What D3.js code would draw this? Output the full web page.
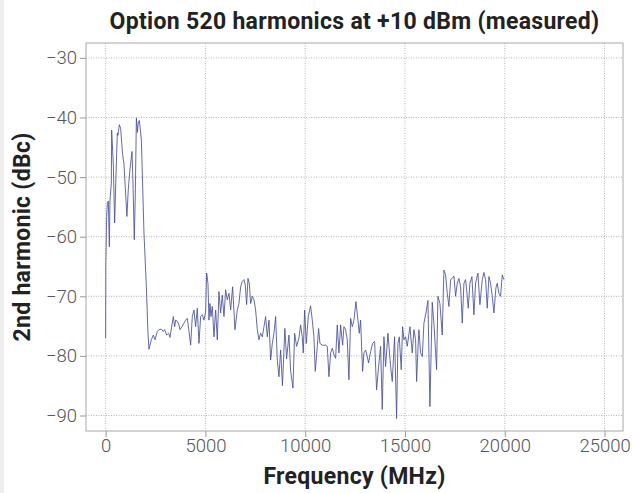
<!DOCTYPE html>
<html>
<head>
<meta charset="utf-8">
<script src="https://cdn.jsdelivr.net/npm/d3@7"></script>
<style>
  body { margin: 0; background: #fff; }
  #container svg { display: block; }
</style>
</head>
<body>
<div id="container"></div>
<script>
const freqMHz = [
  0, 10, 50, 85, 135, 185, 215, 285, 300, 385, 450, 515, 585, 615, 685, 750, 850, 915,
  1065, 1135, 1215, 1320, 1370, 1435, 1485, 1540, 1590, 1640, 1690, 1790, 1920, 2040, 2120, 2171,
  2288, 2388, 2472, 2588, 2672, 2789, 2889, 2956, 3056, 3156, 3223, 3323, 3390, 3457, 3507, 3591,
  3674, 3724, 3824, 3925, 4008, 4092, 4175, 4259, 4342, 4426, 4509, 4593, 4676, 4760, 4843, 4927,
  5010, 5060, 5127, 5177, 5227, 5277, 5344, 5427, 5511, 5594, 5678, 5762, 5845, 5929, 6012, 6096,
  6180, 6263, 6363, 6480, 6597, 6680, 6764, 6847, 6931, 6997, 7064, 7131, 7198, 7265, 7348, 7432,
  7515, 7599, 7682, 7766, 7850, 7933, 8017, 8100, 8184, 8267, 8351, 8434, 8518, 8601, 8684, 8768,
  8860, 8980, 9068, 9185, 9268, 9385, 9469, 9569, 9686, 9770, 9853, 9903, 9970, 10053, 10154, 10270,
  10354, 10438, 10504, 10605, 10671, 10738, 10855, 11022, 11106, 11189, 11273, 11356, 11440, 11523,
  11607, 11690, 11774, 11874, 11941, 12024, 12108, 12191, 12275, 12358, 12442, 12542, 12642, 12709,
  12775, 12876, 12942, 13026, 13110, 13176, 13277, 13377, 13477, 13577, 13677, 13778, 13861, 13945,
  14028, 14145, 14279, 14362, 14479, 14579, 14646, 14713, 14813, 14880, 14947, 15030, 15114, 15248,
  15364, 15448, 15532, 15582, 15648, 15698, 15782, 15866, 15949, 16049, 16149, 16249, 16366, 16460,
  16584, 16650, 16750, 16867, 16951, 17035, 17118, 17202, 17285, 17369, 17452, 17536, 17619, 17703,
  17786, 17870, 17953, 18037, 18120, 18170, 18254, 18354, 18454, 18538, 18655, 18755, 18872, 18955,
  19039, 19122, 19206, 19289, 19373, 19456, 19556, 19623, 19707, 19790, 19874, 19957
];
const harmonicDbc = [
  -77, -64.4, -56.6, -54.3, -54, -61.7, -54, -51, -42.1, -48, -57.7, -50, -42.6, -43, -41.2, -41.8, -46.2, -47.7,
  -56.6, -52, -48.8, -45.7, -51, -60.5, -53, -40.1, -42.5, -40.7, -40.5, -43.8, -59.4, -68.4, -76.2, -78.9,
  -77.3, -76.5, -77.3, -75.9, -75.6, -75.5, -75.9, -75.6, -76.5, -76.2, -76.9, -74.8, -73.4, -75.1, -74, -74.2,
  -74.8, -75.6, -75.1, -74.5, -74, -73.7, -75.9, -78.2, -73.4, -72.3, -75.1, -72, -77.9, -73.4, -73.1, -74,
  -72.6, -66.1, -67.8, -74, -71.2, -73.4, -71.7, -76.8, -72.3, -77.3, -69.2, -72.8, -69.8, -73.4, -68.9, -70.6,
  -69.5, -72.3, -68.4, -75.6, -72.3, -71.2, -68.4, -67.5, -67.2, -68.1, -71.4, -67, -67.8, -71.2, -70, -70.6,
  -72.3, -75.6, -77.3, -76.2, -76.8, -75.1, -73.4, -76.8, -74, -80.7, -77.9, -76.2, -73.4, -80.7, -83.5, -79,
  -85, -75.4, -80.5, -76.5, -82.5, -85.4, -76.2, -78.4, -77, -74.8, -76.8, -79.5, -72.3, -77.9, -73.4, -71.6,
  -74, -76.8, -82.6, -78.4, -75.4, -77.9, -78.2, -78.2, -78.4, -83.5, -79.5, -78.7, -79.8, -80.4,
  -74.8, -79.5, -74.8, -78.2, -75.1, -75.6, -77.3, -84, -73.7, -75.1, -74, -70.9, -74, -76.2,
  -74, -82.6, -79.5, -79, -80.1, -81.2, -79.3, -77.9, -77.6, -85.7, -81.8, -78.4, -89, -76.8,
  -81.8, -76.2, -81.8, -84.3, -76.8, -90.5, -77.9, -76.8, -82.3, -75.1, -77.3, -76.8, -78.4, -75.1,
  -79.5, -75.6, -77.3, -84.3, -79, -75.6, -79.5, -80.1, -74.5, -72.8, -70.7, -88.5, -71, -75,
  -82.3, -70, -71.2, -76.5, -65.6, -66.4, -69.5, -71.7, -67.2, -67, -66.6, -70, -67.8, -67,
  -68.4, -74.5, -67.8, -67.2, -70, -72, -67.8, -66.7, -73.1, -67.8, -66.1, -71.4, -67.2, -66,
  -67.2, -72, -66.7, -67.8, -70, -72.8, -68.6, -67.8, -69.5, -70, -66.4, -67.2
];
const xTicks = [0, 5000, 10000, 15000, 20000, 25000];
const yTicks = [-90, -80, -70, -60, -50, -40, -30];

const data = freqMHz.map((f, i) => ({freq: f, dbc: harmonicDbc[i]}));

window.onload = () => {
  const W = 632, H = 493;
  const margin = {top: 43, right: 9, bottom: 62, left: 86};
  const width = W - margin.left - margin.right;
  const height = H - margin.top - margin.bottom;

  const root = d3.select("#container")
    .append("svg")
    .attr("width", W)
    .attr("height", H);

  // faint grey strip down the left edge of the original
  root.append("rect")
    .attr("x", 0).attr("y", 0)
    .attr("width", 4).attr("height", H)
    .attr("fill", "#efefef");

  const svg = root.append("g")
    .attr("transform", "translate(" + margin.left + "," + margin.top + ")");

  const x = d3.scaleLinear()
    .domain([-985, 25925])
    .range([0, width]);

  const y = d3.scaleLinear()
    .domain([-92.6, -27.5])
    .range([height, 0]);

  // dotted grid
  svg.append("g")
    .selectAll("line")
    .data(xTicks)
    .enter()
    .append("line")
    .attr("x1", d => x(d)).attr("x2", d => x(d))
    .attr("y1", 0).attr("y2", height)
    .attr("stroke", "#b5b5b5")
    .attr("stroke-dasharray", "1,1.5");

  svg.append("g")
    .selectAll("line")
    .data(yTicks)
    .enter()
    .append("line")
    .attr("x1", 0).attr("x2", width)
    .attr("y1", d => y(d)).attr("y2", d => y(d))
    .attr("stroke", "#b5b5b5")
    .attr("stroke-dasharray", "1,1.5");

  const line = d3.line()
    .x(d => x(d.freq))
    .y(d => y(d.dbc));

  svg.append("path")
    .datum(data)
    .attr("fill", "none")
    .attr("stroke", "#474e99")
    .attr("stroke-width", 0.85)
    .attr("d", line);

  // frame
  svg.append("rect")
    .attr("width", width)
    .attr("height", height)
    .attr("fill", "none")
    .attr("stroke", "#a8a8a8");

  const xAxis = svg.append("g")
    .attr("transform", "translate(0," + height + ")")
    .call(d3.axisBottom(x).tickValues(xTicks).tickFormat(d3.format("d")).tickSize(6).tickSizeOuter(0));

  const yAxis = svg.append("g")
    .call(d3.axisLeft(y).tickValues(yTicks).tickSize(6).tickSizeOuter(0));

  [xAxis, yAxis].forEach(a => {
    a.select(".domain").remove();
    a.selectAll("line").attr("stroke", "#999");
    a.selectAll("text")
      .attr("fill", "#555")
      .style("font-family", "Roboto, sans-serif")
      .style("font-weight", 300)
      .style("font-size", "18.5px");
  });
  xAxis.selectAll("text").attr("y", 8).attr("dy", "0.71em");
  yAxis.selectAll("text").attr("x", -9);

  const bold = (sel) => sel
    .attr("text-anchor", "middle")
    .attr("fill", "#222")
    .style("font-family", "Roboto, sans-serif")
    .style("font-weight", 700)
    .style("font-size", "23px")
    .style("letter-spacing", "0.3px");

  root.append("text")
    .attr("x", margin.left + width / 2)
    .attr("y", 29)
    .call(bold)
    .text("Option 520 harmonics at +10 dBm (measured)");

  root.append("text")
    .attr("x", margin.left + width / 2)
    .attr("y", 484)
    .call(bold)
    .text("Frequency (MHz)");

  root.append("text")
    .attr("transform", "translate(30," + (margin.top + height / 2) + ") rotate(-90)")
    .call(bold)
    .text("2nd harmonic (dBc)");
}
</script>
</body>
</html>
